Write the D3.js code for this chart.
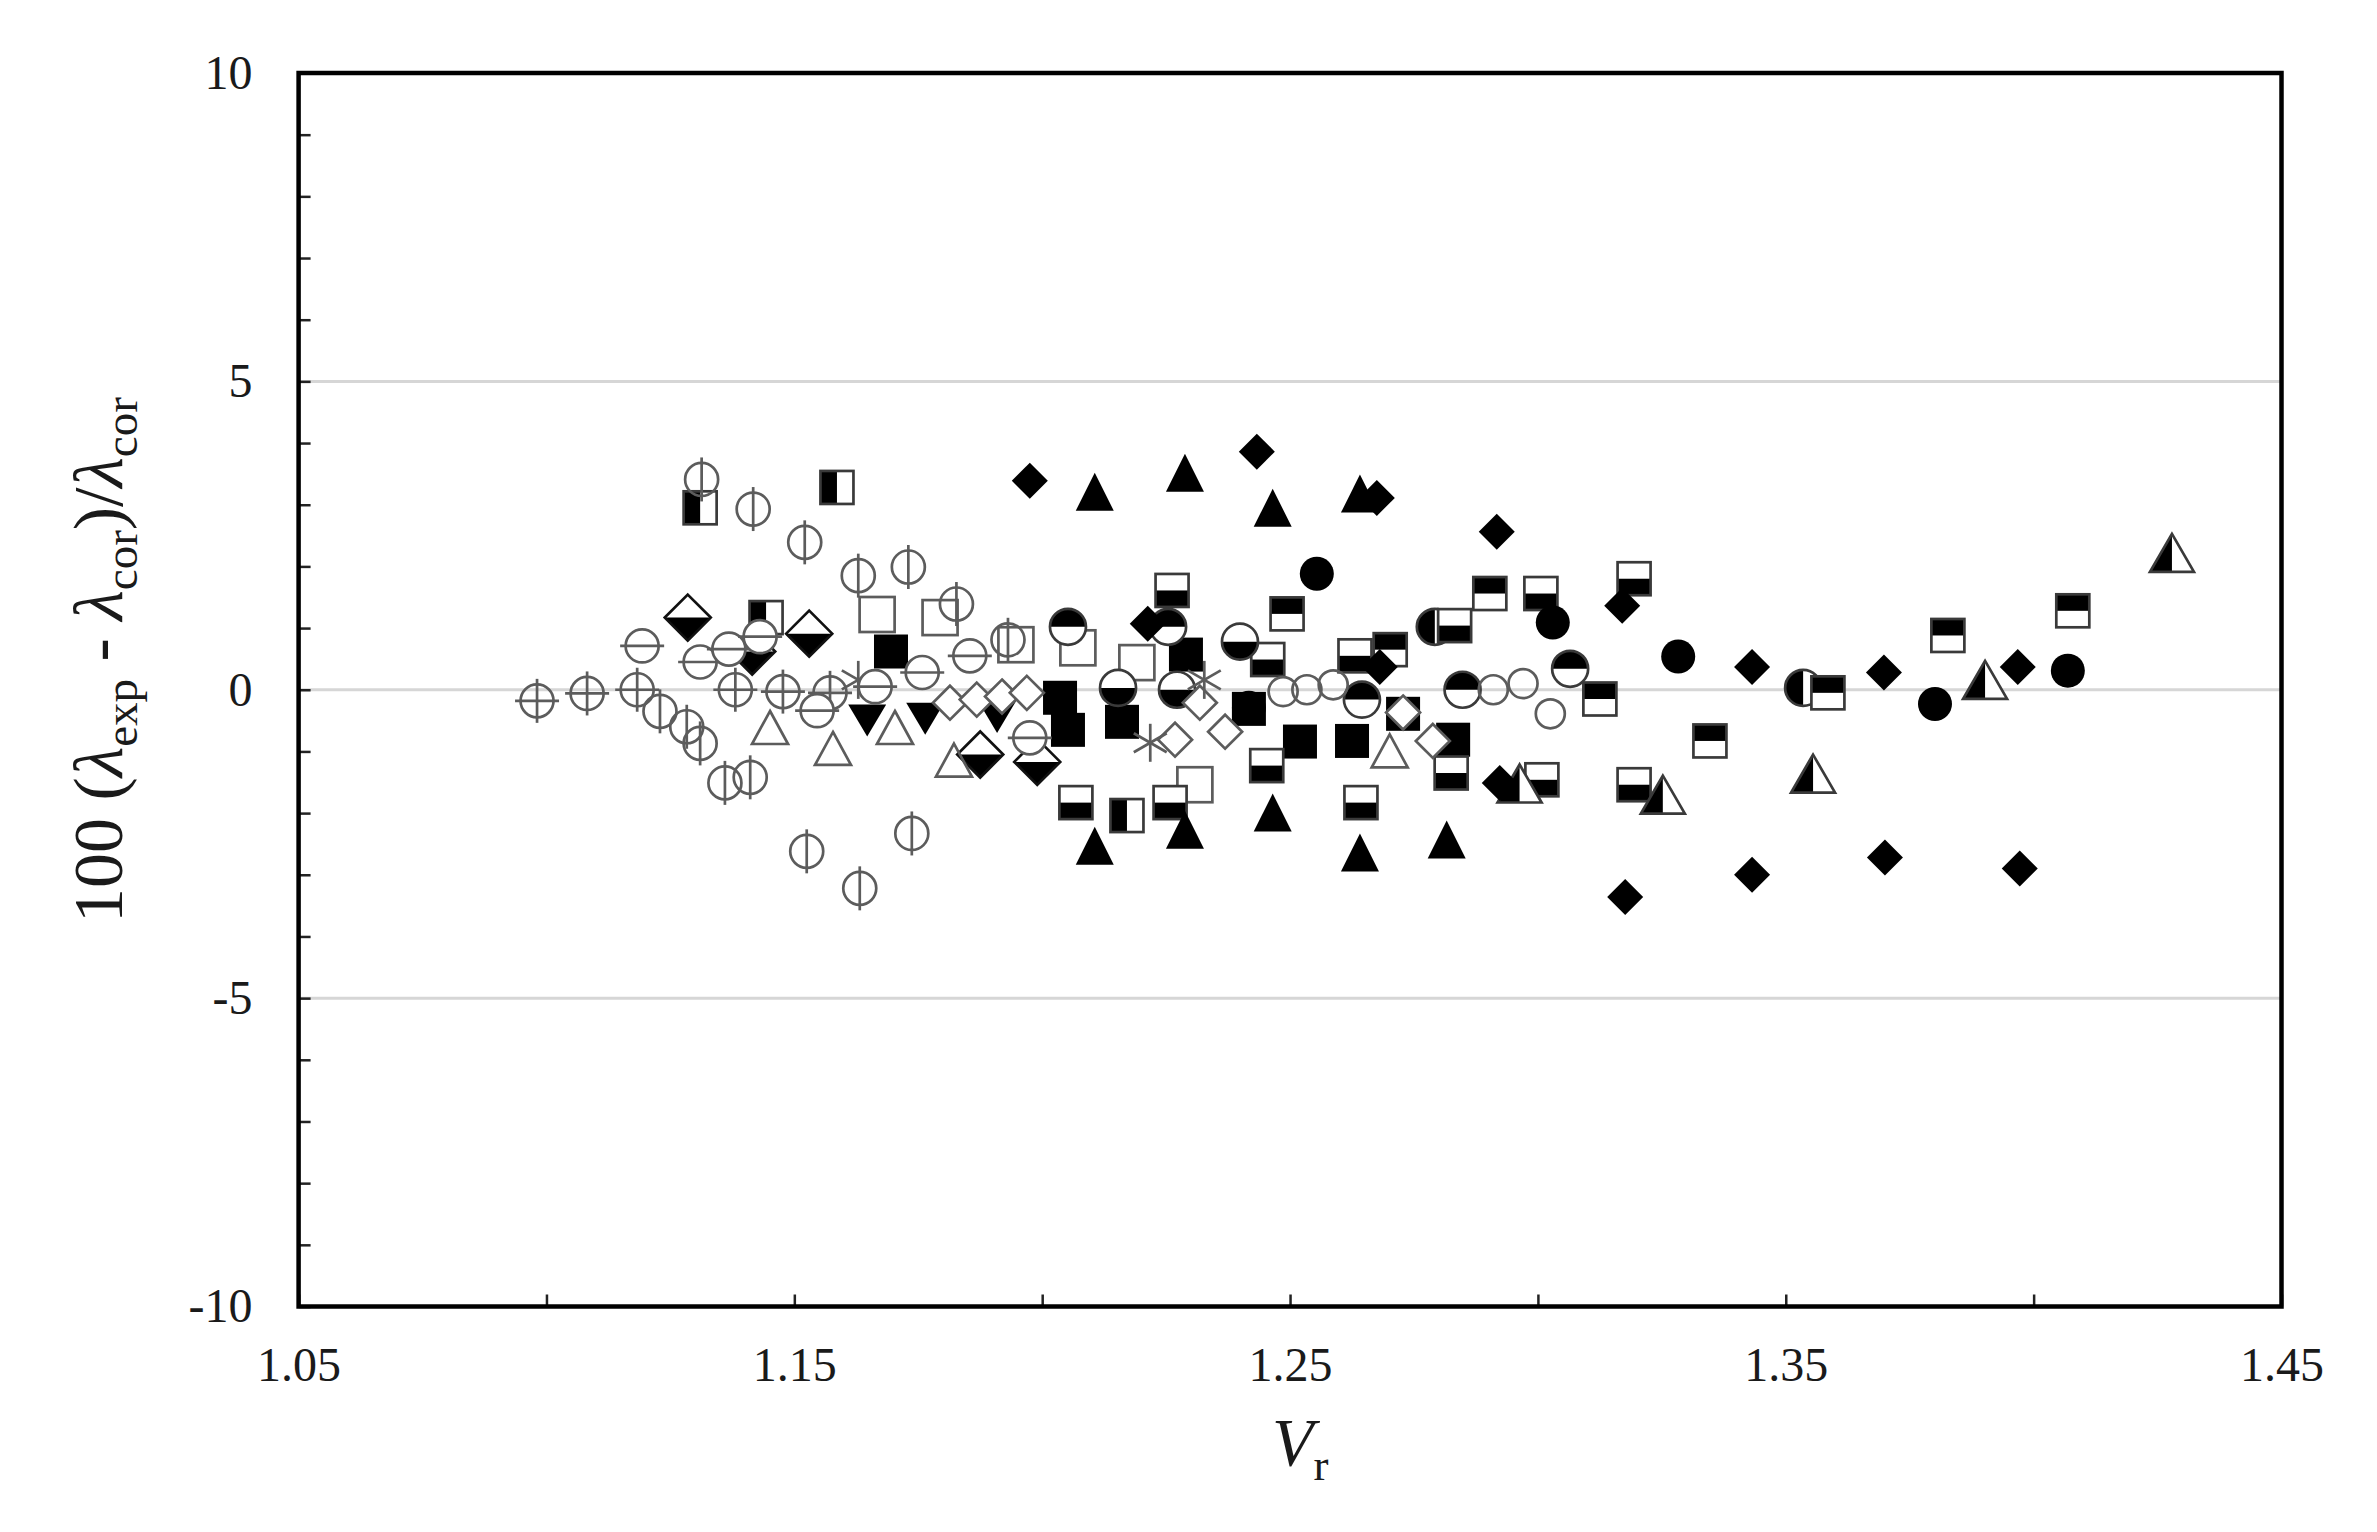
<!DOCTYPE html>
<html><head><meta charset="utf-8">
<script src="https://cdn.jsdelivr.net/npm/d3@7"></script>
<style>body{margin:0;background:#fff;} text{font-family:"Liberation Serif","Times New Roman",serif;}</style>
</head><body><svg id="c" width="2377" height="1532"></svg>
<script>
// ---- tick labels ----
const xMajorLabels = [1.05, 1.15, 1.25, 1.35, 1.45];
const yMajorLabels = [10, 5, 0, -5, -10];
const gridLevels = [5, 0, -5];

// ---- series values [Vr, deviation %] ----
const phiPts = [[1.1313,3.41],[1.1417,2.93],[1.1521,2.39],[1.1629,1.85],[1.1730,1.99],[1.1827,1.39],[1.1931,0.81],[1.1229,-0.35],[1.1283,-0.60],[1.1310,-0.87],[1.1360,-1.51],[1.1411,-1.42],[1.1525,-2.62],[1.1632,-3.22],[1.1737,-2.33]];
const crossPts = [[1.0981,-0.18],[1.1082,-0.06],[1.1183,0.0],[1.1381,0.0],[1.1477,-0.03],[1.1572,-0.05]];
const thetaPts = [[1.1193,0.71],[1.1310,0.45],[1.1368,0.66],[1.1431,0.86],[1.1546,-0.34],[1.1663,0.05],[1.1758,0.28],[1.1854,0.55],[1.1975,-0.78]];
const diaBotPts = [[1.1285,1.17],[1.1530,0.91],[1.1415,0.62],[1.1875,-1.05],[1.1990,-1.17]];
const openTriPts = [[1.1451,-0.62],[1.1578,-0.96],[1.1703,-0.62],[1.1822,-1.15],[1.2701,-1.0]];
const openSqPts = [[1.1667,1.22],[1.1794,1.17],[1.1947,0.73],[1.2072,0.68],[1.2191,0.44],[1.2308,-1.54]];
const sqLeftPts = [[1.1310,2.95],[1.1586,3.28],[1.1443,1.17],[1.2171,-2.04]];
const sqTopPts = [[1.2494,1.23],[1.2903,1.56],[1.3125,-0.15],[1.3347,-0.83],[1.3827,0.88],[1.4079,1.28],[1.2702,0.65],[1.3585,-0.05]];
const sqBotPts = [[1.2262,1.61],[1.3006,1.56],[1.3194,1.80],[1.2832,1.04],[1.2631,0.55],[1.2455,0.49],[1.2068,-1.83],[1.2258,-1.83],[1.2643,-1.83],[1.2825,-1.35],[1.3008,-1.46],[1.3194,-1.54],[1.2453,-1.23]];
const fillSqPts = [[1.1695,0.62],[1.2036,-0.13],[1.2052,-0.65],[1.2161,-0.52],[1.2290,0.57],[1.2520,-0.84],[1.2625,-0.83],[1.2728,-0.39],[1.2829,-0.81],[1.2417,-0.31]];
const fillTriPts = [[1.2106,3.21],[1.2288,3.52],[1.2465,2.95],[1.2641,3.18],[1.2106,-2.53],[1.2288,-2.27],[1.2465,-1.99],[1.2641,-2.64],[1.2816,-2.43]];
const fillDiaPts = [[1.1975,3.39],[1.2433,3.86],[1.2675,3.11],[1.2213,1.07],[1.2917,2.56],[1.3170,1.36],[1.3432,0.37],[1.3698,0.28],[1.3968,0.37],[1.2923,-1.51],[1.3176,-3.36],[1.3432,-3.00],[1.3700,-2.72],[1.3972,-2.90],[1.2681,0.37]];
const fillCirPts = [[1.2554,1.88],[1.3030,1.09],[1.3283,0.54],[1.3801,-0.23],[1.4069,0.31],[1.2417,-0.29]];
const cirTopPts = [[1.2052,1.02],[1.2254,1.02],[1.2645,-0.16],[1.2848,0.0],[1.3065,0.34]];
const cirBotPts = [[1.2399,0.78],[1.2272,0.0],[1.2153,0.03]];
const cirLeftPts = [[1.2792,1.02],[1.3535,0.03]];
const triLeftPts = [[1.2963,-1.52],[1.3252,-1.70],[1.3555,-1.36],[1.3902,0.16],[1.4279,2.22]];
const openDiaPts = [[1.1814,-0.21],[1.1868,-0.16],[1.1919,-0.11],[1.1969,-0.05],[1.2268,-0.81],[1.2318,-0.21],[1.2369,-0.68],[1.2728,-0.37],[1.2788,-0.83]];
const asterPts = [[1.1629,0.16],[1.2218,-0.86],[1.2327,0.16]];
const openCirPts = [[1.2486,-0.03],[1.2534,0.0],[1.2587,0.08],[1.2910,0.0],[1.2970,0.10],[1.3025,-0.39]];
const invTriPts = [[1.1647,-0.50],[1.1764,-0.47],[1.1909,-0.44]];

const seriesList = [
  ["openSq", openSqPts], ["invTri", invTriPts], ["diaBot", diaBotPts], ["sqLeft", sqLeftPts],
  ["fillSq", fillSqPts], ["cirLeft", cirLeftPts], ["sqTop", sqTopPts], ["sqBot", sqBotPts], ["cirTop", cirTopPts],
  ["cirBot", cirBotPts], ["triLeft", triLeftPts], ["fillTri", fillTriPts],
  ["fillDia", fillDiaPts], ["fillCir", fillCirPts], ["openTri", openTriPts], ["openDia", openDiaPts],
  ["aster", asterPts], ["openCir", openCirPts], ["cross", crossPts], ["phi", phiPts], ["theta", thetaPts]
];

const W = 2377, H = 1532;
const svg = d3.select("#c");
svg.append("rect").attr("width", W).attr("height", H).attr("fill", "#fff");

const x = d3.scaleLinear().domain([1.05, 1.45]).range([298.6, 2281.5]);
const y = d3.scaleLinear().domain([-10, 10]).range([1306.5, 73]);

// grid lines
svg.append("g").selectAll("line").data(gridLevels).join("line")
  .attr("x1", x(1.05)).attr("x2", x(1.45))
  .attr("y1", d => y(d)).attr("y2", d => y(d))
  .attr("stroke", "#d6d6d6").attr("stroke-width", 3);

// axes
const xTickVals = d3.range(0, 9).map(i => +(1.05 + i * 0.05).toFixed(2));
const xAxis = d3.axisBottom(x).tickValues(xTickVals).tickSizeInner(-12).tickSizeOuter(0).tickPadding(40)
  .tickFormat(d => xMajorLabels.some(v => Math.abs(v - d) < 1e-9) ? d3.format(".2f")(d) : "");
const gx = svg.append("g").attr("transform", `translate(0,${y(-10)})`).call(xAxis);
const yAxis = d3.axisLeft(y).tickValues(d3.range(-10, 11, 1)).tickSizeInner(-12).tickSizeOuter(0).tickPadding(46)
  .tickFormat(d => yMajorLabels.includes(d) ? String(d) : "");
const gy = svg.append("g").attr("transform", `translate(${x(1.05)},0)`).call(yAxis);
[gx, gy].forEach(g => {
  g.select(".domain").remove();
  g.selectAll(".tick line").attr("stroke", "#222").attr("stroke-width", 2.5);
  g.selectAll(".tick text").attr("font-size", 48).attr("fill", "#1a1a1a")
    .attr("font-family", "'Liberation Serif','Times New Roman',serif");
});

// frame
svg.append("rect").attr("x", x(1.05)).attr("y", y(10))
  .attr("width", x(1.45) - x(1.05)).attr("height", y(-10) - y(10))
  .attr("fill", "none").attr("stroke", "#000").attr("stroke-width", 4.5);

// markers
const GR = "#5c5c5c", SW = 2.7;
function poly(pts){ return "M" + pts.map(p => p.join(",")).join("L") + "Z"; }
function drawGlyph(g, t) {
  switch (t) {
    case "phi":
      g.append("circle").attr("r", 16.5).attr("fill", "none").attr("stroke", GR).attr("stroke-width", SW);
      g.append("line").attr("y1", -22).attr("y2", 22).attr("stroke", GR).attr("stroke-width", SW);
      break;
    case "cross":
      g.append("circle").attr("r", 16.5).attr("fill", "none").attr("stroke", GR).attr("stroke-width", SW);
      g.append("line").attr("y1", -22).attr("y2", 22).attr("stroke", GR).attr("stroke-width", SW);
      g.append("line").attr("x1", -22).attr("x2", 22).attr("stroke", GR).attr("stroke-width", SW);
      break;
    case "theta":
      g.append("circle").attr("r", 16.5).attr("fill", "#fff").attr("stroke", GR).attr("stroke-width", SW);
      g.append("line").attr("x1", -22).attr("x2", 22).attr("stroke", GR).attr("stroke-width", SW);
      break;
    case "openCir":
      g.append("circle").attr("r", 14.5).attr("fill", "none").attr("stroke", GR).attr("stroke-width", SW);
      break;
    case "openSq":
      g.append("rect").attr("x", -17.5).attr("y", -17.5).attr("width", 35).attr("height", 35)
        .attr("fill", "none").attr("stroke", GR).attr("stroke-width", SW);
      break;
    case "openTri":
      g.append("path").attr("d", poly([[0,-17],[18,16],[-18,16]])).attr("fill", "none").attr("stroke", GR).attr("stroke-width", SW);
      break;
    case "openDia":
      g.append("path").attr("d", poly([[0,-17],[17,0],[0,17],[-17,0]])).attr("fill", "#fff").attr("stroke", GR).attr("stroke-width", SW);
      break;
    case "aster": {
      const r = 19;
      [[0,1],[0.866,0.5],[-0.866,0.5]].forEach(([a,b]) =>
        g.append("line").attr("x1", -a*r).attr("y1", -b*r).attr("x2", a*r).attr("y2", b*r)
          .attr("stroke", GR).attr("stroke-width", SW));
      break; }
    case "fillSq":
      g.append("rect").attr("x", -17).attr("y", -17).attr("width", 34).attr("height", 34).attr("fill", "#000");
      break;
    case "fillTri":
      g.append("path").attr("d", poly([[0,-19],[19,19],[-19,19]])).attr("fill", "#000");
      break;
    case "fillDia":
      g.append("path").attr("d", poly([[0,-18],[18,0],[0,18],[-18,0]])).attr("fill", "#000");
      break;
    case "fillCir":
      g.append("circle").attr("r", 17).attr("fill", "#000");
      break;
    case "invTri":
      g.append("path").attr("d", poly([[-19,-16],[19,-16],[0,16]])).attr("fill", "#000");
      break;
    case "sqTop":
    case "sqBot":
    case "sqLeft": {
      g.append("rect").attr("x", -16.5).attr("y", -16.5).attr("width", 33).attr("height", 33).attr("fill", "#fff");
      if (t === "sqTop") g.append("rect").attr("x", -16.5).attr("y", -16.5).attr("width", 33).attr("height", 16.5).attr("fill", "#000");
      if (t === "sqBot") g.append("rect").attr("x", -16.5).attr("y", 0).attr("width", 33).attr("height", 16.5).attr("fill", "#000");
      if (t === "sqLeft") g.append("rect").attr("x", -16.5).attr("y", -16.5).attr("width", 16.5).attr("height", 33).attr("fill", "#000");
      g.append("rect").attr("x", -16.5).attr("y", -16.5).attr("width", 33).attr("height", 33)
        .attr("fill", "none").attr("stroke", "#3a3a3a").attr("stroke-width", SW);
      break; }
    case "cirTop":
    case "cirBot":
    case "cirLeft": {
      const r = 18;
      g.append("circle").attr("r", r).attr("fill", "#fff");
      const d = t === "cirTop" ? `M${-r},0A${r},${r} 0 0 1 ${r},0Z`
              : t === "cirBot" ? `M${-r},0A${r},${r} 0 0 0 ${r},0Z`
              : `M0,${-r}A${r},${r} 0 0 0 0,${r}Z`;
      g.append("path").attr("d", d).attr("fill", "#000");
      g.append("circle").attr("r", r).attr("fill", "none").attr("stroke", "#3a3a3a").attr("stroke-width", SW);
      break; }
    case "triLeft":
      g.append("path").attr("d", poly([[0,-19],[22,19],[-22,19]])).attr("fill", "#fff");
      g.append("path").attr("d", poly([[0,-19],[0,19],[-22,19]])).attr("fill", "#000");
      g.append("path").attr("d", poly([[0,-19],[22,19],[-22,19]])).attr("fill", "none").attr("stroke", "#3a3a3a").attr("stroke-width", SW);
      break;
    case "diaBot":
      g.append("path").attr("d", poly([[0,-23],[23,0],[0,23],[-23,0]])).attr("fill", "#fff");
      g.append("path").attr("d", poly([[-23,0],[23,0],[0,23]])).attr("fill", "#000");
      g.append("path").attr("d", poly([[0,-23],[23,0],[0,23],[-23,0]])).attr("fill", "none").attr("stroke", "#111").attr("stroke-width", SW);
      break;
  }
}
const plot = svg.append("g");
seriesList.forEach(([type, pts]) => {
  plot.append("g").attr("class", "s-" + type).selectAll("g").data(pts).join("g")
    .attr("transform", d => `translate(${x(d[0])},${y(d[1])})`)
    .each(function () { drawGlyph(d3.select(this), type); });
});

// axis titles
const yl = svg.append("text").attr("transform", "translate(122,660) rotate(-90)")
  .attr("text-anchor", "middle").attr("font-size", 70).attr("fill", "#1a1a1a");
yl.append("tspan").text("100 (");
yl.append("tspan").attr("font-style", "italic").text("λ");
yl.append("tspan").attr("font-size", 47).attr("dy", 15).text("exp");
yl.append("tspan").attr("dy", -15).text(" - ");
yl.append("tspan").attr("font-style", "italic").text("λ");
yl.append("tspan").attr("font-size", 47).attr("dy", 15).text("cor");
yl.append("tspan").attr("dy", -15).text(")/");
yl.append("tspan").attr("font-style", "italic").text("λ");
yl.append("tspan").attr("font-size", 47).attr("dy", 15).text("cor");

const xl = svg.append("text").attr("x", 1272).attr("y", 1465).attr("font-size", 68).attr("fill", "#1a1a1a");
xl.append("tspan").attr("font-style", "italic").text("V");
xl.append("tspan").attr("font-size", 45).attr("dy", 15).text("r");
</script></body></html>
